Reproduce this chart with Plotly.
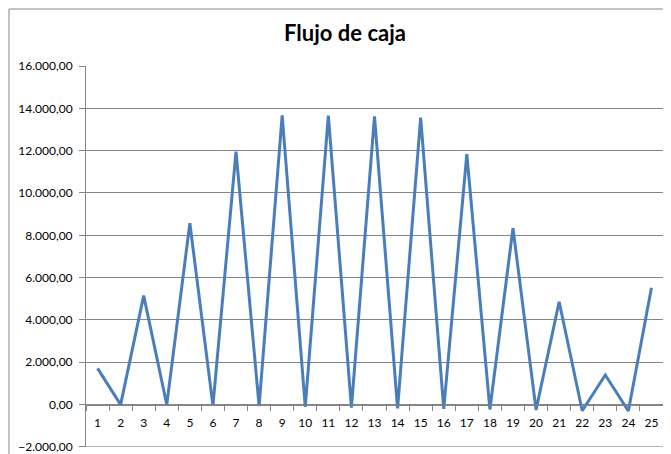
import plotly.graph_objects as go

periods = [str(i) for i in range(1, 26)]
cash_flow = [1710, 0, 5150, -10, 8570, -50, 11950, -70, 13670, -110,
             13660, -140, 13620, -180, 13560, -200, 11830, -230, 8340, -250,
             4860, -290, 1400, -300, 5520]
y_ticks = list(range(-2000, 16001, 2000))
title_text = "Flujo de caja"

# page body has an 8px default margin; layout is compensated for it
OFF = 8
W, H = 671 - OFF, 454 - OFF
L, R, T, B = 86 - OFF, 8, 66 - OFF, 7
pw, ph = W - L - R, H - T - B

fig = go.Figure()
fig.add_trace(go.Scatter(
    x=periods, y=cash_flow, mode="lines",
    line=dict(color="#4A7EBB", width=3),
    hoverinfo="x+y", showlegend=False,
))

grid = "#868686"
y_lo = y_ticks[0] - 4
y_hi = y_ticks[-1]
y0_frac = (0 - y_lo) / (y_hi - y_lo)

fig.update_layout(
    width=W, height=H,
    margin=dict(l=L, r=R, t=T, b=B, autoexpand=False),
    paper_bgcolor="white", plot_bgcolor="white",
    separators=",.",
    font=dict(family="Lato, Carlito, Arial", size=12, color="#000000"),
    title=dict(text="<b>" + title_text + "</b>", x=(345 - 86) / pw, xref="paper",
               xanchor="center", y=1 - (33 - OFF) / H, yanchor="middle",
               font=dict(size=22, family="Lato, Arial", color="#000000")),
    xaxis=dict(
        type="category", range=[-0.5, len(periods) - 0.5],
        anchor="free", position=y0_frac, automargin=False,
        showline=True, linecolor=grid, linewidth=1,
        showgrid=False, zeroline=False,
        ticks="outside", tickson="boundaries", ticklen=5, tickcolor=grid,
        ticklabelstandoff=7,
        tickangle=0, tickfont=dict(size=12),
    ),
    yaxis=dict(
        range=[y_lo, y_hi], tickvals=y_ticks,
        tickformat=",.2f", automargin=False,
        ticklabeloverflow="allow",
        showgrid=True, gridcolor=grid, gridwidth=1,
        zeroline=False,
        showline=True, linecolor=grid, linewidth=1,
        ticks="outside", ticklen=6, tickcolor=grid,
        ticklabelstandoff=4,
        tickfont=dict(size=12),
    ),
    shapes=[
        dict(
            type="rect", xref="paper", yref="paper",
            x0=(1 - L) / pw, x1=1.2,
            y0=-0.2, y1=(H - B - 1) / ph,
            line=dict(color="#878787", width=1), fillcolor="rgba(0,0,0,0)",
            layer="below",
        ),
        dict(
            type="line", xref="paper", yref="y",
            x0=0, x1=1, y0=y_ticks[0], y1=y_ticks[0],
            line=dict(color=grid, width=1), layer="above",
        ),
    ],
)

fig.write_html("out.html")
